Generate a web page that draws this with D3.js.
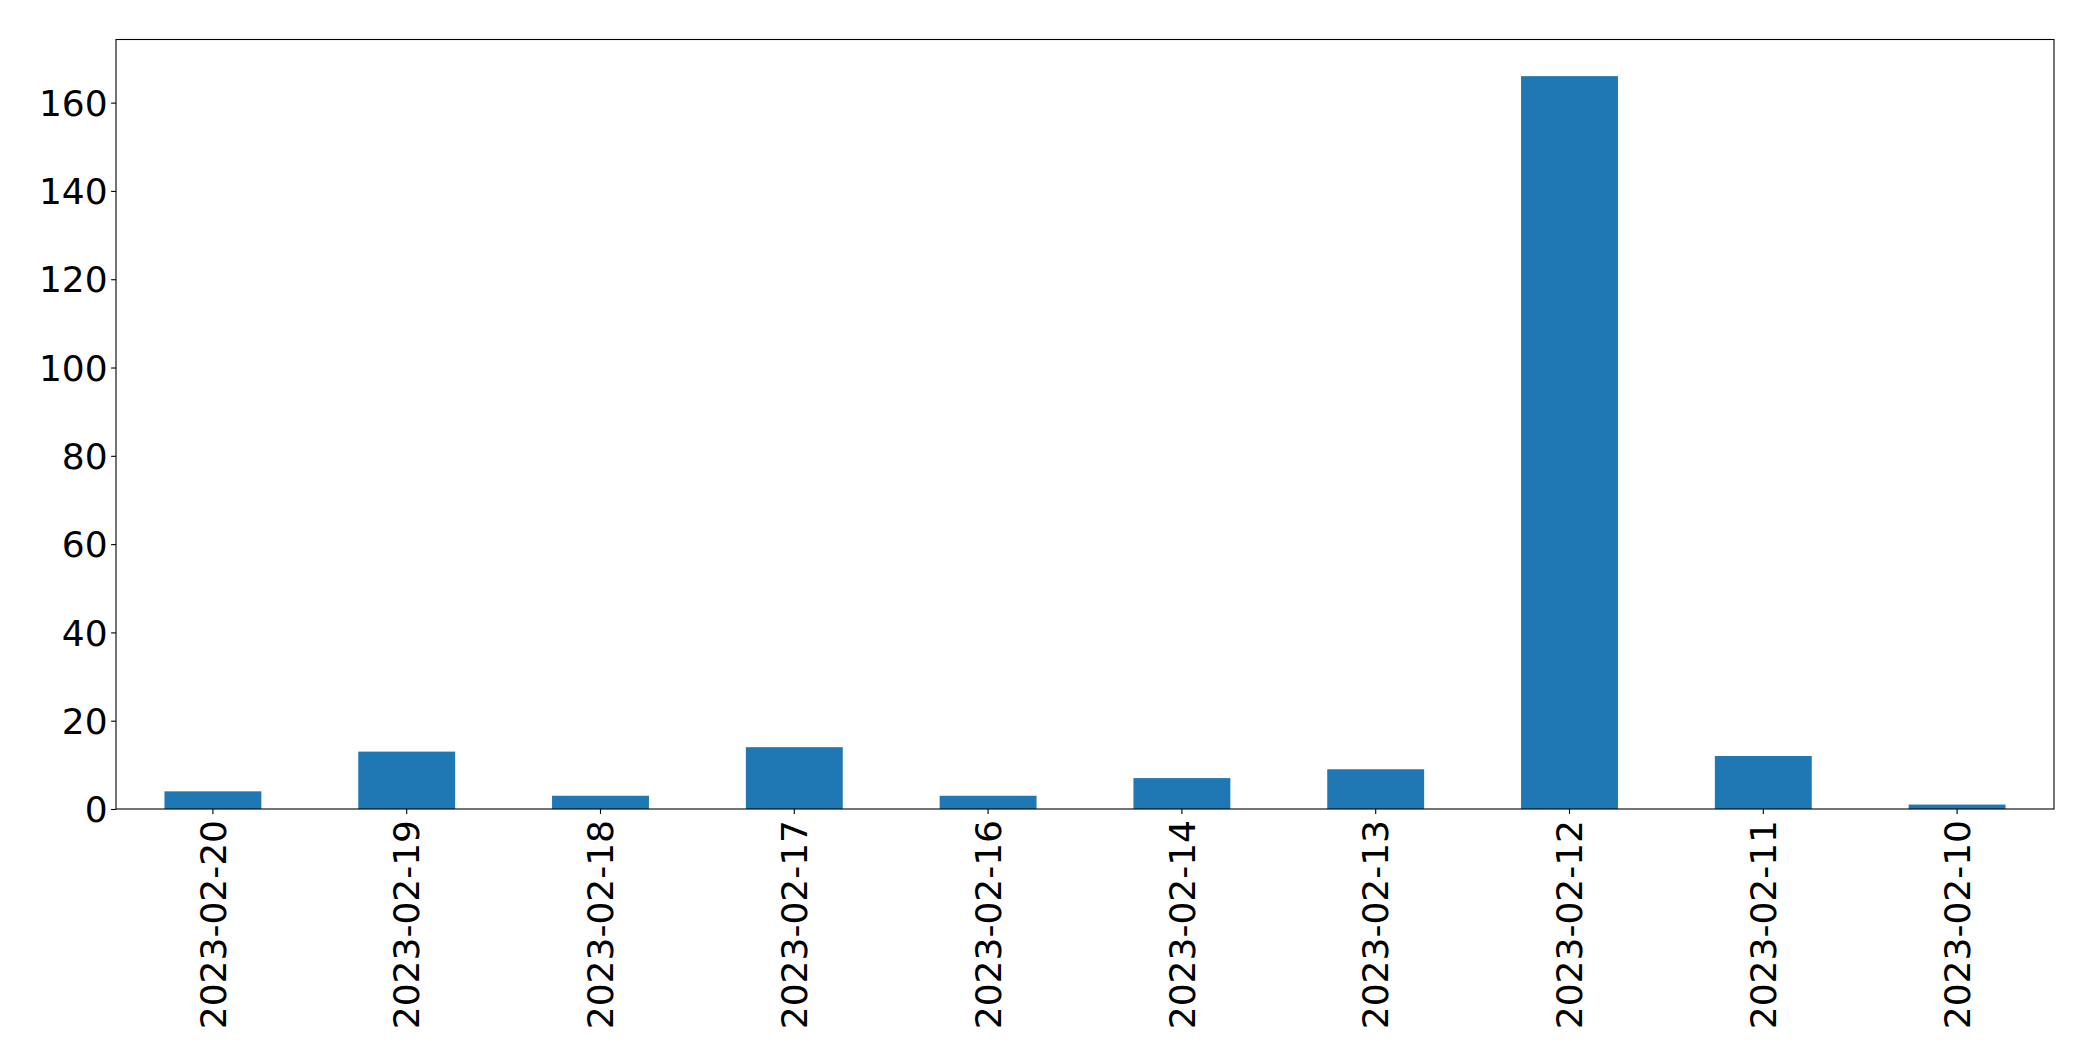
<!DOCTYPE html>
<html>
<head>
<meta charset="utf-8">
<script src="https://cdn.jsdelivr.net/npm/d3@7"></script>
<style>
  html, body { margin: 0; padding: 0; background: #fff; }
  svg { display: block; }
  text { font-family: "DejaVu Sans", sans-serif; fill: #000; }
</style>
</head>
<body>
<svg id="chart" width="2093" height="1061"></svg>
<script>
const categories = ["2023-02-20","2023-02-19","2023-02-18","2023-02-17","2023-02-16","2023-02-14","2023-02-13","2023-02-12","2023-02-11","2023-02-10"];
const values = [4, 13, 3, 14, 3, 7, 9, 166, 12, 1];
const yTicks = [0, 20, 40, 60, 80, 100, 120, 140, 160];

const W = 2093, H = 1061;
const margin = {left: 116, right: 39, top: 39.5, bottom: 252};
const svg = d3.select("#chart");
const iw = W - margin.left - margin.right;
const ih = H - margin.top - margin.bottom;

const x = d3.scaleBand().domain(categories).range([0, iw]).paddingInner(0.5).paddingOuter(0.25);
const yMax = d3.max(values) * 1.05;
const y = d3.scaleLinear().domain([0, yMax]).range([ih, 0]);

const g = svg.append("g").attr("transform", `translate(${margin.left},${margin.top})`);

g.selectAll("rect.bar").data(values).enter().append("rect")
  .attr("class", "bar")
  .attr("x", (d, i) => x(categories[i]))
  .attr("width", x.bandwidth())
  .attr("y", d => y(d))
  .attr("height", d => ih - y(d))
  .attr("fill", "#1f77b4");

const yAxis = g.append("g").call(d3.axisLeft(y).tickValues(yTicks).tickSize(4.9).tickPadding(3.5).tickFormat(d3.format("d")));
yAxis.select(".domain").remove();
yAxis.selectAll("line").attr("stroke", "#000").attr("stroke-width", 1.1);
yAxis.selectAll("text").attr("font-size", 36).attr("font-family", "DejaVu Sans").attr("dy", "0.35em");

const xAxis = g.append("g").attr("transform", `translate(0,${ih})`)
  .call(d3.axisBottom(x).tickSize(4.9).tickPadding(5));
xAxis.select(".domain").remove();
xAxis.selectAll("line").attr("stroke", "#000").attr("stroke-width", 1.1);
xAxis.selectAll("text")
  .attr("font-size", 36).attr("font-family", "DejaVu Sans")
  .attr("text-anchor", "end")
  .attr("transform", "rotate(-90)")
  .attr("x", -11).attr("y", 0).attr("dy", "0.35em");

g.append("rect").attr("x", 0).attr("y", 0).attr("width", iw).attr("height", ih)
  .attr("fill", "none").attr("stroke", "#000").attr("stroke-width", 1.1);
</script>
</body>
</html>
